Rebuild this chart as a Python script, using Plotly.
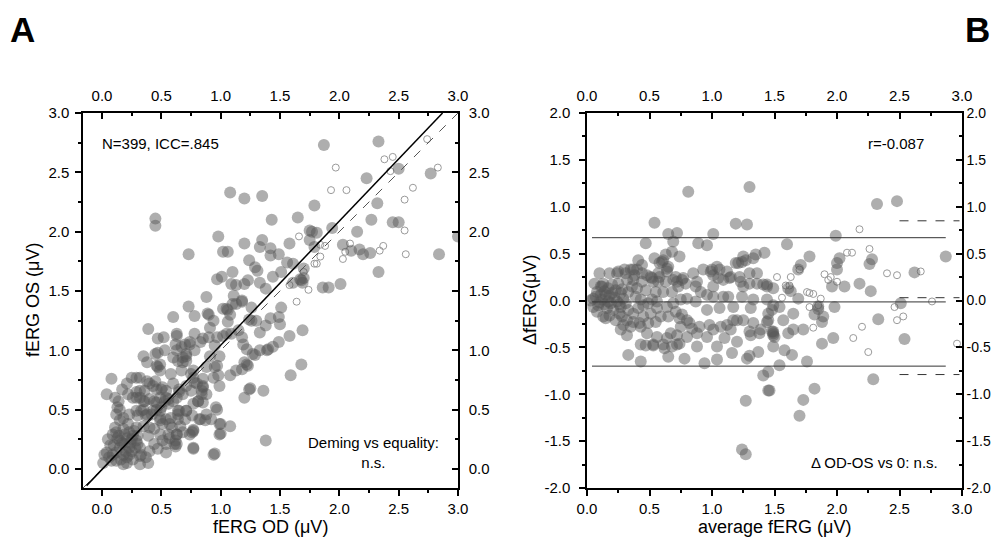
import plotly.graph_objects as go

# ---- panel A: fERG OS vs fERG OD (uV) ----
a_filled = [
    (1.08, 2.33), (1.20, 2.28), (1.35, 2.30), (0.45, 2.11), (0.45, 2.05), (1.79, 2.22), (1.43, 2.10),
    (1.65, 2.12), (0.98, 1.96), (0.73, 1.81), (1.02, 1.83), (1.06, 1.83), (1.20, 1.90), (1.35, 1.93),
    (1.33, 1.87), (1.42, 1.86), (1.42, 1.80), (1.49, 1.81), (1.58, 1.90), (1.75, 2.01), (1.77, 2.00),
    (1.75, 1.93), (1.24, 1.76), (1.29, 1.70), (1.31, 1.67), (1.10, 1.66), (0.97, 1.60), (1.01, 1.62),
    (0.88, 1.45), (1.09, 1.56), (1.13, 1.55), (1.20, 1.56), (1.11, 1.46), (1.18, 1.42), (1.23, 1.59),
    (1.33, 1.57), (1.38, 1.52), (1.44, 1.62), (1.51, 1.66), (1.56, 1.74), (1.61, 1.73), (1.67, 1.60),
    (1.69, 1.57), (1.61, 1.57), (1.51, 1.36), (1.26, 1.36), (1.05, 1.35), (0.73, 1.37),
    (1.87, 2.73), (2.33, 2.76), (2.23, 2.45), (2.50, 2.53), (2.77, 2.49), (2.32, 2.24), (2.27, 2.10),
    (2.45, 2.08), (2.50, 2.08), (1.81, 1.99), (1.94, 2.03), (2.15, 2.00), (1.79, 1.87), (2.03, 1.89),
    (2.10, 1.84), (2.17, 1.85), (2.20, 1.81), (2.26, 1.82), (2.84, 1.81), (2.33, 1.66), (2.01, 1.56),
    (1.86, 1.53), (1.91, 1.53), (1.70, 1.69), (1.68, 1.59), (1.70, 1.61), (3.00, 1.96),
    (0.60, 1.28), (0.78, 1.29), (0.90, 1.30), (0.94, 1.25), (1.02, 1.35), (1.08, 1.30), (1.10, 1.39),
    (1.18, 1.41), (1.26, 1.25), (1.33, 1.15), (1.42, 1.27), (1.49, 1.28), (1.50, 1.22), (1.58, 1.12),
    (1.69, 1.17), (1.68, 0.88), (1.59, 0.79), (1.49, 1.07), (1.44, 1.03), (1.39, 1.00), (1.33, 1.00),
    (1.29, 0.96), (1.18, 1.11), (1.15, 1.17), (1.25, 0.68), (1.20, 0.60), (1.36, 0.66), (1.23, 0.87),
    (1.20, 0.90), (1.13, 0.83), (1.18, 0.84), (1.09, 1.14), (1.02, 1.12), (0.95, 1.04), (0.99, 0.95),
    (0.90, 1.11), (0.97, 1.11), (0.97, 0.87), (0.98, 0.79), (0.99, 0.70), (0.91, 0.95), (0.88, 0.86),
    (0.94, 0.77), (0.78, 1.14), (0.74, 1.07), (0.78, 1.00), (0.83, 1.07), (0.85, 1.10), (0.71, 0.97),
    (0.68, 0.94), (0.71, 0.91), (0.60, 0.94), (0.63, 1.00), (0.64, 0.91), (0.63, 1.14), (0.62, 1.05),
    (0.77, 0.83), (0.77, 0.77), (0.80, 0.72), (0.85, 0.70), (0.84, 0.66), (0.81, 0.57), (0.88, 0.63),
    (0.85, 0.56), (0.97, 0.50), (0.92, 0.42), (0.87, 0.41), (0.83, 0.42), (0.99, 0.38), (1.08, 0.36),
    (0.99, 0.29), (0.94, 0.12), (0.77, 0.33), (0.76, 0.31), (0.77, 0.17), (0.71, 0.49), (0.76, 0.45),
    (0.70, 0.42), (0.64, 0.49), (0.64, 0.42), (0.66, 0.36), (0.59, 0.35), (0.56, 0.29), (0.63, 0.29),
    (0.62, 0.24), (0.62, 0.19), (0.54, 0.21), (0.35, 0.57), (0.33, 0.49), (0.46, 0.56), (0.49, 0.49),
    (0.49, 0.43), (0.54, 0.42), (0.38, 0.46), (0.43, 0.49), (0.32, 0.77), (0.25, 0.77), (0.21, 0.72),
    (0.17, 0.67), (0.22, 0.63), (0.11, 0.60), (0.14, 0.57), (0.08, 0.76), (0.04, 0.63), (0.35, 0.95),
    (0.38, 0.90), (0.45, 0.97), (0.47, 0.98), (0.49, 0.88), (0.46, 0.87), (0.45, 0.74), (0.43, 0.70),
    (0.50, 0.67), (0.54, 0.66), (0.56, 0.59), (0.49, 0.83), (0.47, 1.10), (0.39, 1.18), (0.52, 1.11),
    (0.53, 1.00), (0.29, 0.77), (0.38, 0.74), (0.40, 0.72), (0.32, 0.66), (0.29, 0.60),
    (0.89, 1.31), (0.91, 1.19), (0.63, 1.12), (0.70, 1.05), (0.67, 1.03), (0.74, 1.05), (0.71, 0.95),
    (0.68, 0.90), (0.47, 0.86), (0.58, 0.80), (0.67, 0.83), (0.75, 0.80), (0.78, 0.73), (0.85, 0.76),
    (0.95, 0.86), (1.08, 0.79), (1.22, 0.88), (1.24, 0.67), (1.38, 0.24), (0.96, 0.52), (0.88, 0.46),
    (0.82, 0.42), (1.00, 0.38), (1.00, 0.30), (0.77, 0.32), (0.74, 0.29), (0.63, 0.21), (0.77, 0.18),
    (0.95, 0.13), (1.06, 1.34), (1.13, 1.39), (1.06, 1.24), (1.05, 1.14), (1.24, 1.26), (1.30, 1.25),
    (1.38, 1.21), (1.40, 1.01), (1.22, 1.01), (1.27, 0.97), (1.19, 1.05),
    (0.05, 0.25), (0.09, 0.29), (0.12, 0.31), (0.13, 0.26), (0.15, 0.24), (0.18, 0.34), (0.19, 0.29),
    (0.21, 0.26), (0.23, 0.31), (0.25, 0.25), (0.26, 0.28), (0.29, 0.24), (0.30, 0.21), (0.32, 0.18),
    (0.28, 0.18), (0.23, 0.18), (0.19, 0.21), (0.15, 0.18), (0.12, 0.14), (0.09, 0.12), (0.06, 0.10),
    (0.04, 0.14), (0.08, 0.07), (0.12, 0.07), (0.16, 0.08), (0.21, 0.10), (0.21, 0.05), (0.18, 0.04),
    (0.23, 0.12), (0.26, 0.08), (0.33, 0.12), (0.37, 0.10), (0.32, 0.04), (0.01, 0.05), (0.12, 0.46),
    (0.15, 0.50), (0.18, 0.43), (0.23, 0.46), (0.29, 0.49), (0.30, 0.45), (0.35, 0.50), (0.37, 0.45),
    (0.42, 0.46), (0.46, 0.50), (0.50, 0.52), (0.53, 0.57), (0.56, 0.55), (0.60, 0.57), (0.63, 0.60),
    (0.65, 0.65), (0.68, 0.63), (0.54, 0.60), (0.49, 0.60), (0.44, 0.57), (0.40, 0.59), (0.36, 0.57),
    (0.32, 0.60), (0.26, 0.60), (0.35, 0.36), (0.40, 0.35), (0.44, 0.34), (0.49, 0.41), (0.51, 0.38),
    (0.57, 0.38), (0.58, 0.43), (0.64, 0.46), (0.65, 0.49), (0.71, 0.49), (0.77, 0.55), (0.81, 0.57),
    (0.84, 0.63), (0.85, 0.69), (0.75, 0.66), (0.71, 0.70), (0.65, 0.67), (0.60, 0.72), (0.51, 0.69),
    (0.46, 0.67), (0.36, 0.66), (0.29, 0.65), (0.13, 0.52), (0.15, 0.41), (0.22, 0.38), (0.29, 0.35),
    (0.39, 0.28), (0.44, 0.21), (0.49, 0.29), (0.51, 0.24), (0.63, 0.29), (0.61, 0.21), (0.68, 0.31),
    (0.57, 0.26), (0.47, 0.17), (0.40, 0.15), (0.54, 0.14), (0.32, 0.11), (0.39, 0.05),
    (0.10, 0.20), (0.14, 0.28), (0.17, 0.22), (0.20, 0.15), (0.24, 0.22), (0.27, 0.32), (0.11, 0.35),
    (0.07, 0.20), (0.02, 0.12), (0.30, 0.28), (0.18, 0.12), (0.25, 0.15),
]
a_open = [
    (1.66, 1.96), (1.64, 1.41), (1.74, 1.51), (1.58, 1.55), (1.81, 1.73), (2.74, 2.78), (2.38, 2.61),
    (2.45, 2.63), (1.97, 2.54), (2.83, 2.54), (2.43, 2.51), (1.93, 2.35), (2.06, 2.35), (2.62, 2.37),
    (2.55, 2.27), (2.55, 2.01), (1.84, 1.89), (1.88, 1.88), (2.09, 1.90), (2.05, 1.83), (2.03, 1.77),
    (2.37, 1.88), (2.34, 1.84), (2.56, 1.81), (1.79, 1.73), (1.84, 1.79), (1.70, 1.66),
]
deming_x = [-0.13, 2.87]
deming_y = [-0.14, 3.0]
identity_xy = [-0.16, 3.0]

# ---- panel B: Bland-Altman, difference vs average (uV) ----
b_filled = [
    (0.81, 1.16), (1.30, 1.21), (0.54, 0.83), (1.19, 0.82), (1.28, 0.81), (0.65, 0.71), (0.72, 0.72),
    (1.01, 0.71), (0.47, 0.61), (0.69, 0.63), (0.89, 0.61), (0.96, 0.59), (0.54, 0.45), (0.61, 0.43),
    (0.68, 0.52), (0.74, 0.47), (0.41, 0.43), (0.44, 0.38), (0.37, 0.33), (0.30, 0.33), (0.24, 0.29),
    (0.18, 0.29), (0.58, 0.40), (0.64, 0.34), (0.93, 0.33), (1.00, 0.33), (1.06, 0.33), (1.12, 0.31),
    (1.21, 0.40), (1.25, 0.47), (1.33, 0.45), (1.42, 0.51), (1.35, 0.49), (1.22, 0.25), (1.30, 0.29),
    (1.36, 0.29), (1.09, 0.22), (1.14, 0.24), (1.01, 0.27), (0.85, 0.29), (0.88, 0.20), (0.77, 0.24),
    (0.72, 0.20), (0.58, 0.25), (0.52, 0.24), (0.48, 0.27), (0.38, 0.27), (0.37, 0.22), (0.32, 0.22),
    (0.10, 0.29), (0.06, 0.18), (0.12, 0.15), (1.30, 0.18), (1.36, 0.18), (1.44, 0.17),
    (1.24, 0.41), (1.27, 0.43), (1.19, 0.40), (0.60, 0.41), (0.63, 0.49), (0.65, 0.36), (0.35, 0.33),
    (0.40, 0.33), (0.31, 0.29), (0.25, 0.31), (0.44, 0.29), (0.51, 0.25), (0.57, 0.29), (0.64, 0.31),
    (0.71, 0.25), (0.76, 0.22), (0.53, 0.20), (0.57, 0.20), (0.63, 0.20), (0.69, 0.22), (0.44, 0.20),
    (0.40, 0.13), (0.47, 0.11), (0.55, 0.09), (0.61, 0.09), (0.68, 0.09), (0.73, 0.15), (0.79, 0.18),
    (0.99, 0.31), (1.04, 0.36), (1.15, 0.25), (1.05, 0.24), (1.01, 0.15), (0.87, 0.15), (0.91, 0.09),
    (0.96, 0.06), (1.01, 0.04), (1.09, 0.04), (1.13, 0.04), (0.80, 0.02), (0.87, -0.01), (1.23, 0.20),
    (1.25, 0.15), (1.41, 0.17), (1.24, 0.04), (1.31, -0.08), (1.33, 0.01),
    (0.05, 0.02), (0.08, 0.09), (0.11, 0.15), (0.13, 0.18), (0.12, 0.01), (0.09, -0.05), (0.15, 0.06),
    (0.17, 0.13), (0.20, 0.17), (0.23, 0.11), (0.25, 0.18), (0.27, 0.08), (0.29, 0.02), (0.24, -0.01),
    (0.19, -0.03), (0.16, -0.08), (0.21, -0.10), (0.27, -0.07), (0.31, -0.03), (0.33, 0.09), (0.36, 0.15),
    (0.39, 0.04), (0.43, 0.01), (0.45, -0.05), (0.49, -0.03), (0.52, 0.01), (0.56, -0.01), (0.33, -0.10),
    (0.37, -0.14), (0.41, -0.08), (0.15, -0.19), (0.08, -0.12), (0.05, -0.07), (0.28, -0.17), (0.32, -0.21),
    (0.45, -0.17), (0.51, -0.14), (0.56, -0.08), (0.59, -0.17), (0.64, -0.07), (0.69, -0.03), (0.75, 0.01),
    (0.71, -0.12), (0.65, -0.17), (0.76, -0.15), (0.80, -0.21), (0.75, -0.28), (0.84, -0.30), (0.35, -0.28),
    (0.43, -0.28), (0.49, -0.24), (0.55, -0.23), (0.29, -0.26), (0.23, -0.21),
    (0.03, 0.00), (0.07, 0.04), (0.10, -0.02), (0.14, 0.10), (0.18, 0.05), (0.22, 0.03), (0.26, -0.04),
    (0.20, 0.08), (0.14, -0.04), (0.11, 0.06), (0.17, -0.01), (0.28, 0.12),
    (1.17, -0.21), (1.25, -0.21), (1.33, -0.24), (1.39, -0.31), (1.45, -0.21), (1.49, -0.35), (1.31, -0.37),
    (1.15, -0.31), (1.07, -0.28), (1.01, -0.31), (0.96, -0.39), (0.88, -0.35), (0.80, -0.39), (0.72, -0.37),
    (0.67, -0.35), (0.56, -0.39), (0.48, -0.35), (0.53, -0.47), (0.61, -0.47), (0.43, -0.47), (0.32, -0.37),
    (0.27, -0.31), (1.44, 0.01), (1.48, -0.10), (1.49, 0.13), (1.44, 0.15),
    (0.33, -0.58), (0.43, -0.65), (0.47, -0.48), (0.53, -0.48), (0.64, -0.40), (0.62, -0.51), (0.68, -0.49),
    (0.72, -0.47), (0.74, -0.46), (0.65, -0.60), (0.78, -0.62), (0.88, -0.49), (0.94, -0.67), (1.04, -0.49),
    (1.04, -0.63), (1.16, -0.56), (1.10, -0.40), (1.20, -0.44), (1.28, -0.62), (1.30, -0.59), (1.37, -0.55),
    (1.41, -0.80), (1.45, -0.76), (1.45, -0.96), (1.27, -1.07), (1.24, -1.59), (1.27, -1.64), (0.98, -0.26),
    (1.12, -0.26), (1.20, -0.21), (1.44, -0.23), (1.30, -0.33), (1.38, -0.35), (0.96, -0.10), (1.06, -0.08),
    (1.17, -0.07), (0.74, -0.19), (0.82, -0.24), (0.90, -0.28), (0.13, -0.17), (0.18, -0.16), (0.26, -0.14),
    (0.37, -0.23), (0.42, -0.24),
    (1.99, 0.69), (1.60, 0.60), (1.78, 0.47), (1.71, 0.38), (1.69, 0.33), (2.02, 0.45), (2.00, 0.40),
    (2.00, 0.33), (2.28, 0.44), (2.26, 0.39), (2.87, 0.47), (2.62, 0.30), (1.96, 0.15), (2.06, 0.15),
    (2.18, 0.18), (2.27, 0.10), (1.61, 0.13), (1.63, 0.10), (1.69, 0.02), (1.49, -0.05), (1.54, -0.07),
    (1.85, -0.06), (1.85, -0.09), (1.98, -0.07), (2.51, -0.03), (1.45, -0.14), (1.57, -0.21), (1.65, -0.14),
    (1.82, -0.15), (1.89, -0.17), (1.88, -0.23), (2.33, -0.20), (1.73, -0.31), (1.49, -0.33), (1.61, -0.35),
    (1.65, -0.31), (1.50, -0.39), (1.97, -0.40), (2.54, -0.41), (1.88, -0.46),
    (2.29, -0.84), (1.76, -0.65), (1.82, -0.94), (1.73, -1.06), (1.70, -1.23), (1.46, -0.96), (1.54, -0.69),
    (1.58, -0.53), (1.64, -0.58), (1.49, -0.49), (1.49, -0.37), (1.48, -0.33), (2.32, 1.03), (2.48, 1.06),
]
b_open = [
    (2.18, 0.76), (2.08, 0.51), (2.12, 0.51), (2.26, 0.55), (2.40, 0.29), (2.48, 0.27), (2.67, 0.31),
    (1.52, 0.25), (1.63, 0.25), (1.90, 0.28), (1.95, 0.25), (1.93, 0.22), (2.00, 0.20), (1.70, 0.33),
    (1.59, 0.16), (1.62, 0.16), (1.76, 0.09), (1.78, 0.08), (1.81, 0.07), (1.56, 0.03), (1.87, 0.02),
    (1.78, -0.07), (1.85, -0.05), (2.46, -0.07), (2.76, -0.01), (2.53, -0.17), (2.48, -0.21), (2.20, -0.28),
    (1.81, -0.29), (2.13, -0.40), (2.96, -0.46), (2.25, -0.55),
]
# mean difference and limits of agreement
ba_x = [0.04, 2.87]
ba_levels = [0.67, -0.015, -0.70]
ref_x = [2.50, 2.98]
ref_levels = [0.85, 0.03, -0.79]

# tick labels (plain hyphen minus, as in the original)
ticks_a = [0.0, 0.5, 1.0, 1.5, 2.0, 2.5, 3.0]
ticks_b_y = [-2.0, -1.5, -1.0, -0.5, 0.0, 0.5, 1.0, 1.5, 2.0]
ticktext_a = ["0.0", "0.5", "1.0", "1.5", "2.0", "2.5", "3.0"]
ticktext_b_y = ["-2.0", "-1.5", "-1.0", "-0.5", "0.0", "0.5", "1.0", "1.5", "2.0"]

FONT = "Liberation Sans, Arial, sans-serif"
FILL = "rgba(85,85,85,0.48)"

# the page body adds an 8px margin on every side, so the figure is 984x532 at (8, 8)
W, H = 984, 532


def px(x):
    return (x - 8) / W


def py(y):
    return (540 - y) / H


fig = go.Figure()


def scatter(pts, xa, ya, hollow=False):
    fig.add_trace(go.Scatter(
        x=[p[0] for p in pts], y=[p[1] for p in pts], mode="markers",
        xaxis=xa, yaxis=ya, showlegend=False, hoverinfo="skip",
        marker=dict(size=7, color="rgba(0,0,0,0)", line=dict(color="#9a9a9a", width=1))
        if hollow else dict(size=12, color=FILL, line=dict(width=0)),
    ))


def line(xs, ys, xa, ya, color, width, dash="solid"):
    fig.add_trace(go.Scatter(x=xs, y=ys, mode="lines", xaxis=xa, yaxis=ya, showlegend=False,
                             hoverinfo="skip", line=dict(color=color, width=width, dash=dash)))


# panel A
scatter(a_open, "x", "y", hollow=True)
scatter(a_filled, "x", "y")
line(identity_xy, identity_xy, "x", "y", "#555555", 1, "dash")
line(deming_x, deming_y, "x", "y", "black", 1.5)

# panel B
scatter(b_open, "x2", "y2", hollow=True)
scatter(b_filled, "x2", "y2")
for lev in ba_levels:
    line(ba_x, [lev, lev], "x2", "y2", "#333333", 1)
for lev in ref_levels:
    line(ref_x, [lev, lev], "x2", "y2", "#333333", 1, "dash")

# empty traces so the mirrored (top / right) axes get drawn
for xa, ya in [("x3", "y3"), ("x4", "y4")]:
    fig.add_trace(go.Scatter(x=[], y=[], xaxis=xa, yaxis=ya, showlegend=False))

dom_a = [px(83), px(458)]
dom_b = [px(587), px(962)]
dom_y = [py(488), py(113)]


def ax(domain, rng, side, ticks, vals, text, size=15, **kw):
    d = dict(domain=domain, range=rng, side=side, ticks=ticks, ticklen=6, tickwidth=1.5,
             tickcolor="black", tickmode="array", tickvals=vals, ticktext=text,
             minor=dict(ticks=ticks, ticklen=3.5, dtick=0.25, tick0=0, tickwidth=1.5,
                        tickcolor="black", showgrid=False),
             showline=True, linecolor="black", linewidth=1.5, showgrid=False, zeroline=False,
             automargin=False, tickfont=dict(family=FONT, size=size, color="black"),
             fixedrange=True)
    d.update(kw)
    return d


rng_a = [-0.16, 3.0]
fig.update_layout(
    width=W, height=H,
    margin=dict(l=0, r=0, t=0, b=0),
    paper_bgcolor="white", plot_bgcolor="rgba(0,0,0,0)",
    xaxis=ax(dom_a, rng_a, "bottom", "outside", ticks_a, ticktext_a, anchor="y"),
    yaxis=ax(dom_y, rng_a, "left", "outside", ticks_a, ticktext_a, anchor="x",
             ticklabelstandoff=3),
    xaxis3=ax(dom_a, rng_a, "top", "inside", ticks_a, ticktext_a, anchor="y3",
              overlaying="x", ticklabelstandoff=4),
    yaxis3=ax(dom_y, rng_a, "right", "inside", ticks_a, ticktext_a, anchor="x3",
              overlaying="y", ticklabelstandoff=6),
    xaxis2=ax(dom_b, [0, 3.0], "bottom", "outside", ticks_a, ticktext_a, anchor="y2"),
    yaxis2=ax(dom_y, [-2.0, 2.0], "left", "outside", ticks_b_y, ticktext_b_y, anchor="x2",
              ticklabelstandoff=6),
    xaxis4=ax(dom_b, [0, 3.0], "top", "inside", ticks_a, ticktext_a, anchor="y4",
              overlaying="x2", ticklabelstandoff=4),
    yaxis4=ax(dom_y, [-2.0, 2.0], "right", "inside", ticks_b_y, ticktext_b_y, size=14,
              anchor="x4", overlaying="y2", ticklabelstandoff=0),
)


def label(text, x, y, size=15, angle=0, xanchor="center", bold=False):
    fig.add_annotation(text=f"<b>{text}</b>" if bold else text, x=px(x), y=py(y), xref="paper",
                       yref="paper", xanchor=xanchor, yanchor="middle", showarrow=False,
                       textangle=angle, borderpad=0,
                       font=dict(family=FONT, size=size, color="black"))


label("A", 9, 30, size=35, xanchor="left", bold=True)
label("B", 977, 30, size=35, bold=True)
label("fERG OD (μV)", 270.5, 527, size=18)
label("fERG OS (μV)", 33, 300, size=18, angle=-90)
label("average fERG (μV)", 774.5, 527, size=18)
label("ΔfERG(μV)", 530, 300, size=18, angle=-90)
label("N=399, ICC=.845", 101, 143, xanchor="left")
label("Deming vs equality:<br>n.s.", 373, 452)
label("r=-0.087", 896, 143)
label("Δ OD-OS vs 0: n.s.", 874, 462)

fig.write_html("out.html")
